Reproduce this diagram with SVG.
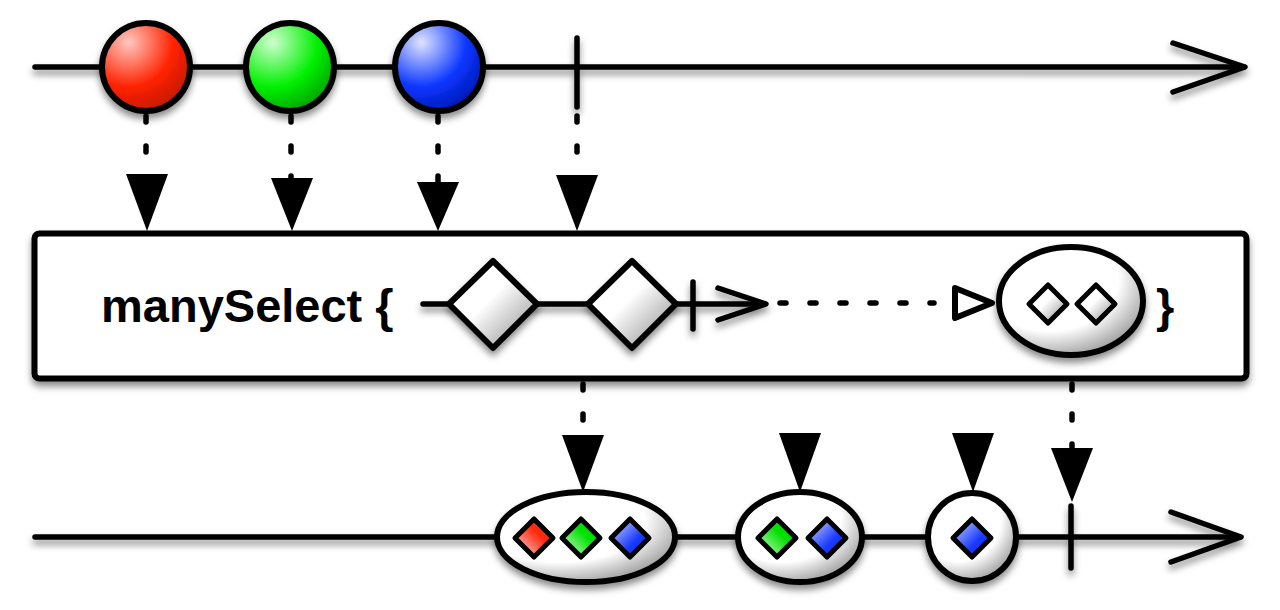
<svg xmlns="http://www.w3.org/2000/svg" width="1280" height="610" viewBox="0 0 1280 610">
<defs>
<filter id="sh" x="-20%" y="-20%" width="140%" height="160%">
<feDropShadow dx="0" dy="5" stdDeviation="3.5" flood-color="#000" flood-opacity="0.45"/>
</filter>
<radialGradient id="gRed" cx="0.3" cy="0.22" r="0.85">
<stop offset="0" stop-color="#ffc8c0"/><stop offset="0.6" stop-color="#ff2200"/><stop offset="1" stop-color="#c01800"/>
</radialGradient>
<radialGradient id="gGreen" cx="0.3" cy="0.22" r="0.85">
<stop offset="0" stop-color="#d0ffd0"/><stop offset="0.6" stop-color="#00f000"/><stop offset="1" stop-color="#00a000"/>
</radialGradient>
<radialGradient id="gBlue" cx="0.3" cy="0.22" r="0.85">
<stop offset="0" stop-color="#e0e4ff"/><stop offset="0.6" stop-color="#0a36ff"/><stop offset="1" stop-color="#0018b0"/>
</radialGradient>
<radialGradient id="gWhite" cx="0.35" cy="0.3" r="0.8">
<stop offset="0" stop-color="#fff"/><stop offset="0.6" stop-color="#fff"/><stop offset="1" stop-color="#8a8a8a"/>
</radialGradient>
<linearGradient id="gDia" x1="0" y1="0" x2="1" y2="1">
<stop offset="0" stop-color="#fff"/><stop offset="0.45" stop-color="#fff"/><stop offset="0.9" stop-color="#9a9a9a"/>
</linearGradient>
<linearGradient id="dRed" x1="0" y1="1" x2="1" y2="0">
<stop offset="0" stop-color="#ffe0e0"/><stop offset="0.6" stop-color="#ff2a10"/><stop offset="1" stop-color="#ff2000"/>
</linearGradient>
<linearGradient id="dGreen" x1="0" y1="1" x2="1" y2="0">
<stop offset="0" stop-color="#e0ffe0"/><stop offset="0.6" stop-color="#00e000"/><stop offset="1" stop-color="#00d000"/>
</linearGradient>
<linearGradient id="dBlue" x1="0" y1="0" x2="1" y2="1">
<stop offset="0" stop-color="#d8dcff"/><stop offset="0.6" stop-color="#1a3cff"/><stop offset="1" stop-color="#0020e0"/>
</linearGradient>
</defs>
<style>
.ln{fill:none;stroke:#000;stroke-width:5.5;stroke-linecap:round;stroke-linejoin:round}
.dash{fill:none;stroke:#000;stroke-width:5.5;stroke-linecap:round;stroke-dasharray:6 24}
.ol{stroke:#000;stroke-width:6;stroke-linejoin:round}
.sd{stroke:#000;stroke-width:5;stroke-linejoin:round}
.tri{fill:#000;stroke:none}
.txt{font-family:"Liberation Sans",Arial,sans-serif;font-weight:bold;font-size:47px;fill:#000}
</style>

<g id="top-timeline" filter="url(#sh)">
<line class="ln" x1="35" y1="67" x2="1244" y2="67"/>
<polyline class="ln" points="1173,43 1245,67 1173,92"/>
<line class="ln" x1="577" y1="38" x2="577" y2="107"/>
</g>
<g id="marble-red" filter="url(#sh)"><circle cx="146" cy="67" r="44" fill="url(#gRed)" class="ol"/></g>
<g id="marble-green" filter="url(#sh)"><circle cx="290" cy="67" r="44" fill="url(#gGreen)" class="ol"/></g>
<g id="marble-blue" filter="url(#sh)"><circle cx="439" cy="67" r="44" fill="url(#gBlue)" class="ol"/></g>

<g id="operator-box">
<rect x="34.5" y="233.5" width="1212" height="145" rx="5" fill="#fff" stroke="#000" stroke-width="6" filter="url(#sh)"/>
<text class="txt" x="101" y="322">manySelect {</text>
<text class="txt" x="1156" y="322">}</text>
<g filter="url(#sh)">
<line class="ln" x1="423" y1="304" x2="765" y2="304"/>
<line class="ln" x1="693" y1="282" x2="693" y2="329"/>
<polyline class="ln" points="718,288 766,304 718,320"/>
</g>
<g id="box-diamond-1" filter="url(#sh)"><polygon points="493,261 537,304 493,348 449,304" fill="url(#gDia)" class="ol"/></g>
<g id="box-diamond-2" filter="url(#sh)"><polygon points="632,261 676,304 632,348 588,304" fill="url(#gDia)" class="ol"/></g>
<line class="dash" x1="780" y1="303" x2="934" y2="303"/>
<polygon points="955,288 992,303 955,318" fill="#fff" class="ol"/>
<g id="box-ellipse" filter="url(#sh)">
<ellipse cx="1071" cy="301" rx="72" ry="54" fill="url(#gWhite)" class="ol"/>
<polygon points="1048,285 1067,304 1048,323 1029,304" fill="url(#gDia)" class="sd"/>
<polygon points="1096,285 1115,304 1096,323 1077,304" fill="url(#gDia)" class="sd"/>
</g>
</g>

<g id="bottom-timeline" filter="url(#sh)">
<line class="ln" x1="35" y1="537" x2="1240" y2="537"/>
<polyline class="ln" points="1171,512 1241,537 1171,562"/>
<line class="ln" x1="1071" y1="506" x2="1071" y2="568"/>
</g>
<g id="result-1" filter="url(#sh)">
<ellipse cx="586" cy="537" rx="89" ry="45" fill="url(#gWhite)" class="ol"/>
<polygon points="534,519 553,538 534,557 515,538" fill="url(#dRed)" class="sd"/>
<polygon points="581,519 600,538 581,557 562,538" fill="url(#dGreen)" class="sd"/>
<polygon points="630,519 649,538 630,557 611,538" fill="url(#dBlue)" class="sd"/>
</g>
<g id="result-2" filter="url(#sh)">
<ellipse cx="800" cy="537" rx="62" ry="45" fill="url(#gWhite)" class="ol"/>
<polygon points="777,519 796,538 777,557 758,538" fill="url(#dGreen)" class="sd"/>
<polygon points="827,519 846,538 827,557 808,538" fill="url(#dBlue)" class="sd"/>
</g>
<g id="result-3" filter="url(#sh)">
<circle cx="972" cy="537" r="44" fill="url(#gWhite)" class="ol"/>
<polygon points="972,519 991,538 972,557 953,538" fill="url(#dBlue)" class="sd"/>
</g>

<g id="connectors">
<line class="dash" x1="146" y1="116" x2="146" y2="176"/>
<polygon class="tri" points="126,174 168,174 147,231"/>
<line class="dash" x1="291" y1="116" x2="291" y2="180"/>
<polygon class="tri" points="271,178 313,178 292,231"/>
<line class="dash" x1="438" y1="116" x2="438" y2="184"/>
<polygon class="tri" points="417,182 459,182 438,231"/>
<line class="dash" x1="577" y1="116" x2="577" y2="176"/>
<polygon class="tri" points="556,175 598,175 577,231"/>
<line class="dash" x1="583" y1="384" x2="583" y2="437"/>
<polygon class="tri" points="562,435 604,435 583,492"/>
<polygon class="tri" points="779,433 821,433 800,492"/>
<polygon class="tri" points="952,433 994,433 973,492"/>
<line class="dash" x1="1072" y1="384" x2="1072" y2="450"/>
<polygon class="tri" points="1051,448 1093,448 1072,502"/>
</g>
</svg>
